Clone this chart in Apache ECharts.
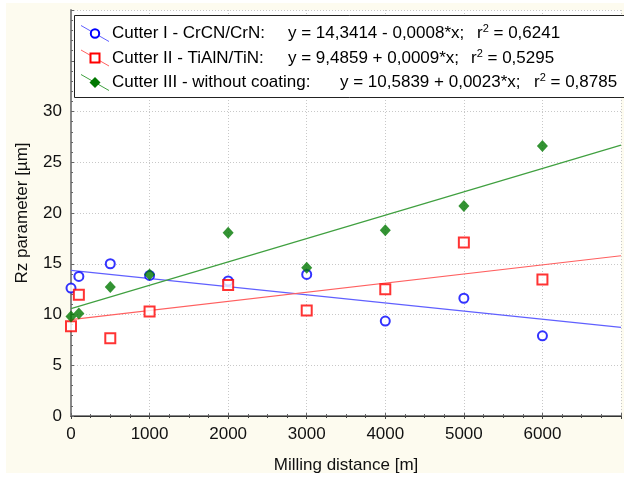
<!DOCTYPE html>
<html><head><meta charset="utf-8">
<script src="https://cdn.jsdelivr.net/npm/echarts@6/dist/echarts.min.js"></script>
<style>html,body{margin:0;padding:0;background:#fff}#c{width:624px;height:479px}</style>
</head><body><div id="c"></div>
<script>
// ---- data ----
const xPts = [0, 100, 500, 1000, 2000, 3000, 4000, 5000, 6000];
const cutter1 = [12.6, 13.75, 15.0, 13.85, 13.3, 13.95, 9.35, 11.6, 7.9];
const cutter2 = [8.85, 11.95, 7.65, 10.3, 12.9, 10.4, 12.5, 17.1, 13.45];
const cutter3 = [9.8, 10.1, 12.7, 13.95, 18.05, 14.6, 18.3, 20.7, 26.6];
const fitX = [0, 7000];
const fit1 = [14.34, 8.74];
const fit2 = [9.49, 15.79];
const fit3 = [10.58, 26.68];
const yTicks = [0, 5, 10, 15, 20, 25, 30];
const xTicks = [0, 1000, 2000, 3000, 4000, 5000, 6000];
const legendNames = ['Cutter I - CrCN/CrN:', 'Cutter II - TiAlN/TiN:', 'Cutter III - without coating:'];
const legendFits = ['y = 14,3414 - 0,0008*x;', 'y = 9,4859 + 0,0009*x;', 'y = 10,5839 + 0,0023*x;'];
const legendR2 = ['0,6241', '0,5295', '0,8785'];

const pair = (xs, ys) => xs.map((x, i) => [x, ys[i]]);
const FONT = 'Liberation Sans, Arial, sans-serif';

const chart = echarts.init(document.getElementById('c'));
const legendTop = 15, rowH = 24.5;
const legendColors = ['#0000ff', '#ff0000', '#007800'];
const lineColors = ['#6060ff', '#ff6060', '#40a040'];
const eqX = [288, 288, 340];
const r2X = [477, 471, 534];
const graphics = [
  {type: 'rect', shape: {x: 6, y: 3, width: 618, height: 470}, style: {fill: '#fdfbef'}, z: -10, silent: true},
  {type: 'rect', shape: {x: 74.5, y: legendTop + 0.5, width: 560, height: 82}, style: {fill: '#fff', stroke: '#222', lineWidth: 1}, z: 50}
];
legendNames.forEach((nm, i) => {
  const cy = legendTop + 18.5 + i * rowH;
  const cx = 95;
  graphics.push({type: 'line', shape: {x1: cx - 14, y1: cy - 8, x2: cx + 14, y2: cy + 8}, style: {stroke: lineColors[i], lineWidth: 1}, z: 51});
  if (i === 0) graphics.push({type: 'circle', shape: {cx: cx, cy: cy, r: 4.2}, style: {fill: '#fff', stroke: legendColors[i], lineWidth: 2}, z: 52});
  if (i === 1) graphics.push({type: 'rect', shape: {x: cx - 4.5, y: cy - 4.5, width: 9, height: 9}, style: {fill: '#fff', stroke: legendColors[i], lineWidth: 2}, z: 52});
  if (i === 2) graphics.push({type: 'polygon', shape: {points: [[cx, cy - 5.5], [cx + 5.5, cy], [cx, cy + 5.5], [cx - 5.5, cy]]}, style: {fill: legendColors[i]}, z: 52});
  graphics.push({type: 'text', x: 112, y: cy, z: 52, style: {text: nm, font: '17px ' + FONT, fill: '#000', verticalAlign: 'middle'}});
  graphics.push({type: 'text', x: eqX[i], y: cy, z: 52, style: {text: legendFits[i], font: '17px ' + FONT, fill: '#000', verticalAlign: 'middle'}});
  graphics.push({type: 'text', x: r2X[i], y: cy, z: 52, style: {
    text: '{a|r}{s|2}{a| = ' + legendR2[i] + '}',
    verticalAlign: 'middle',
    rich: {a: {font: '17px ' + FONT, fill: '#000'}, s: {font: '11px ' + FONT, fill: '#000', padding: [0, 0, 9, 0]}}
  }});
});

chart.setOption({
  animation: false,
  backgroundColor: 'transparent',
  textStyle: {fontFamily: FONT},
  grid: {left: 71, top: 10, width: 561, height: 408.7, backgroundColor: '#fff', show: true, borderWidth: 0},
  graphic: graphics,
  xAxis: [{
    type: 'value', min: 0, max: 7000, interval: 1000,
    name: 'Milling distance [m]', nameLocation: 'middle', nameGap: 41,
    nameTextStyle: {fontSize: 17, color: '#111', fontFamily: FONT},
    axisLine: {show: true, onZero: false, lineStyle: {color: '#888', width: 2}},
    axisTick: {show: true, inside: true, length: 3, lineStyle: {color: '#666'}},
    minorTick: {show: true, splitNumber: 4, length: 2, lineStyle: {color: '#666'}},
    axisLabel: {fontSize: 17, color: '#111', margin: 10, fontFamily: FONT,
      formatter: v => xTicks.indexOf(v) >= 0 ? String(v) : ''},
    splitLine: {show: true, lineStyle: {color: '#c8c8c8', type: [1, 2], width: 1}}
  }, {
    type: 'value', position: 'top', min: 0, max: 7000, interval: 1000,
    axisLine: {show: true, lineStyle: {color: '#333', width: 1}},
    axisTick: {show: true, inside: true, length: 3, lineStyle: {color: '#444'}},
    minorTick: {show: true, splitNumber: 4, length: 2, lineStyle: {color: '#444'}},
    axisLabel: {show: false}, splitLine: {show: false}
  }],
  yAxis: {
    type: 'value', min: 0, max: 40, interval: 5,
    name: 'Rz parameter [\u00b5m]', nameLocation: 'middle', nameGap: 40,
    nameTextStyle: {fontSize: 17, color: '#111', fontFamily: FONT},
    axisLine: {show: true, onZero: false, lineStyle: {color: '#888', width: 2}},
    axisTick: {show: true, inside: true, length: 3, lineStyle: {color: '#666'}},
    minorTick: {show: true, splitNumber: 5, length: 2, lineStyle: {color: '#666'}},
    axisLabel: {fontSize: 17, color: '#111', margin: 9, fontFamily: FONT,
      formatter: v => yTicks.indexOf(v) >= 0 ? String(v) : ''},
    splitLine: {show: true, lineStyle: {color: '#c8c8c8', type: [1, 2], width: 1}}
  },
  series: [
    {type: 'line', data: pair(fitX, fit1), symbol: 'none', lineStyle: {color: lineColors[0], width: 1.2}, z: 3},
    {type: 'line', data: pair(fitX, fit2), symbol: 'none', lineStyle: {color: lineColors[1], width: 1.2}, z: 3},
    {type: 'line', data: pair(fitX, fit3), symbol: 'none', lineStyle: {color: lineColors[2], width: 1.2}, z: 3},
    {type: 'scatter', data: pair(xPts, cutter1), symbol: 'circle', symbolSize: 9, clip: false,
      itemStyle: {color: '#fff', borderColor: '#0000ff', borderWidth: 2}, z: 5},
    {type: 'scatter', data: pair(xPts, cutter2), symbol: 'rect', symbolSize: 10, clip: false,
      itemStyle: {color: '#fff', borderColor: '#ff0000', borderWidth: 2}, z: 5},
    {type: 'scatter', data: pair(xPts, cutter3), symbol: 'diamond', symbolSize: [11, 12], clip: false,
      itemStyle: {color: '#007800'}, z: 6}
  ]
});
</script></body></html>
